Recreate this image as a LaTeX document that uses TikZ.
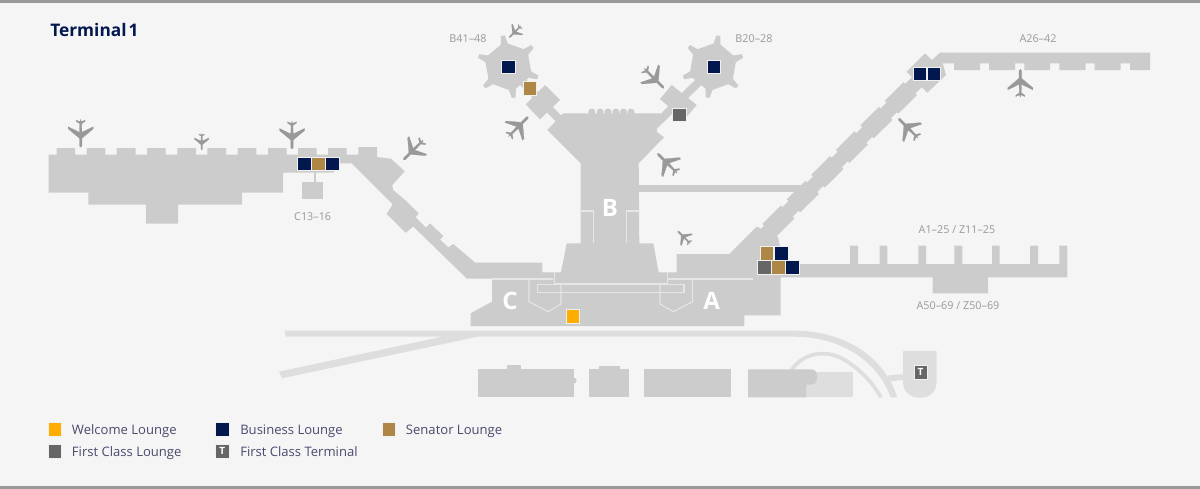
\documentclass[tikz,border=0pt]{standalone}
\usepackage{fontspec}
\setmainfont{Open Sans}
\definecolor{mapbg}{HTML}{F5F5F5}
\definecolor{mapgrey}{HTML}{CCCCCC}
\definecolor{maplight}{HTML}{DEDEDE}
\definecolor{mapline}{HTML}{E6E6E6}
\definecolor{planegrey}{HTML}{999999}
\definecolor{navy}{HTML}{03174F}
\definecolor{gold}{HTML}{AE8645}
\definecolor{fclass}{HTML}{666666}
\definecolor{welcome}{HTML}{FFAD00}
\definecolor{legendtext}{HTML}{4A4A6E}
\tikzset{
  lounge/.style={minimum size=10pt,inner sep=0pt,outer sep=0pt,draw=white!70!mapgrey,line width=.3pt},
  gatelabel/.style={font=\fontsize{8.1}{10}\selectfont,text=planegrey,inner sep=0pt},
  legendlabel/.style={font=\fontsize{9.8}{12}\selectfont,text=legendtext,anchor=west,inner sep=0pt,text height=7.5pt,text depth=2.5pt},
  arealabel/.style={font=\fontsize{18}{20}\selectfont\bfseries,text=white,inner sep=0pt},
  inner line/.style={draw=mapline,line width=.8pt},
  neck/.style={draw=mapgrey},
  road/.style={draw=maplight},
  plane/.pic={
    \fill[planegrey,draw=planegrey,line width=.2pt,line join=round]
      (0,-14)--(1.2,-12.5)--(1.2,-5)--(12.5,4.5)--(12.5,6.5)--(1.2,1)--(.9,9.5)--(4.5,12)--(4.5,13.2)--(.6,11.5)
      --(0,14)--(-.6,11.5)--(-4.5,13.2)--(-4.5,12)--(-.9,9.5)--(-1.2,1)--(-12.5,6.5)--(-12.5,4.5)--(-1.2,-5)--(-1.2,-12.5)--cycle;
  }
}
\begin{document}
\begin{tikzpicture}[x=.75pt,y=-.75pt]
  \useasboundingbox (0,0) rectangle (1200,489);
  \fill[mapbg] (0,0) rectangle (1200,489);
  \fill[planegrey] (0,0) rectangle (1200,3);
  \fill[planegrey] (0,486) rectangle (1200,489);
  % roads
  \fill[maplight] (284.7,330.7)--(794,330.7)
    .. controls (846,330.7) and (885,358) .. (897.2,397.3)--(890.5,397.3)
    .. controls (878,362) and (842,336.7) .. (794,336.7)--(477.6,336.7)--(282,378.3)--(279,371.7)--(441.9,336.7)--(285.6,336.7)--cycle;
  \draw[road,line width=2.8pt] (791,371) .. controls (802,353) and (825,349) .. (843,359) .. controls (862,370) and (874,385) .. (881,397.3);
  \draw[road,line width=4.5pt] (888,378.5)--(903,377);
  % T building
  \fill[maplight] (903,351)--(936.5,351)--(936.5,381.7) .. controls (936.5,392) and (930,397.7) .. (920,397.7)
    .. controls (910,397.7) and (903,392) .. (903,381.7)--cycle;
  % parking and outer buildings
  \fill[maplight] (806.6,371.7) rectangle (852.6,397.3);
  \fill[mapgrey] (477.6,369.3) rectangle (573.6,397.3);
  \fill[mapgrey] (506.6,365.3) rectangle (521.3,370);
  \fill[mapgrey] (573.6,380.7) circle (3);
  \fill[mapgrey] (589.2,369.3) rectangle (629.4,397.3);
  \fill[mapgrey] (599,366) rectangle (619.5,370);
  \fill[mapgrey] (644,369.3) rectangle (730.7,397.3);
  \fill[mapgrey] (748,369.3)--(812,369.3) .. controls (819,370) and (819,384) .. (812,384.6)--(806.6,384.6)--(806.6,397.3)--(748,397.3)--cycle;
  % west pier and main terminal
  \fill[mapgrey] (48.7,154.5)--(56.7,154.5)--(56.7,148)--(75,148)--(75,154.5)--(86.7,154.5)--(86.7,148)--(105.3,148)--(105.3,154.5)
    --(116.7,154.5)--(116.7,148)--(135.7,148)--(135.7,154.5)--(147,154.5)--(147,148)--(165.7,148)--(165.7,154.5)
    --(177.3,154.5)--(177.3,148)--(196,148)--(196,154.5)--(207.3,154.5)--(207.3,148)--(226,148)--(226,154.5)
    --(237.7,154.5)--(237.7,148)--(256.3,148)--(256.3,154.5)--(268,154.5)--(268,148)--(286.7,148)--(286.7,154.5)
    --(298,154.5)--(298,148)--(316.7,148)--(316.7,154.5)--(328,154.5)--(328,148)--(346.7,148)--(346.7,154.5)
    --(358.3,154.5)--(358.3,147)--(377,147)--(377,157)--(391,158.7)--(404.7,171.3)--(392.3,185)--(393,190)
    --(405,200)--(418.7,213.3)--(415.7,217.3)--(426,227.7)--(430,223.3)--(443.3,236)--(440,239.3)--(448.3,247.5)--(453.3,244)
    --(475,262.5)--(542.3,262.5)--(542.3,272.3)--(561,272.3)--(566.7,243.3)--(580.7,243.3)
    --(580.7,163.3)--(547.3,130)--(563.3,113.3)--(660,113.3)--(656.7,131.7)--(664,137.3)--(638.7,163.3)--(639.3,243.3)
    --(653.3,243.3)--(658.7,272.3)--(676.7,272.3)--(676.7,254)--(729.3,254)--(756.7,226.7)--(778,237)--(780,246.7)--(780,258)--(790,264)--(797.3,264)
    --(797.3,277.3)--(780.7,277.3)--(780.7,315.3)--(744.3,315.3)--(744.3,326)--(470.7,326)--(470.7,313.3)--(492,301.7)
    --(492,278.5)--(466.7,278.5)--(413.3,226.5)--(405.7,232.7)--(386.7,214)--(392.7,204.3)--(351.7,163.3)--(340,163.3)--(333.3,172.7)
    --(283,172.7)--(283,192.7)--(242,192.7)--(242,204.7)--(178,204.7)--(178,223.7)--(146,223.7)--(146,204.7)--(88.3,204.7)
    --(88.3,192.7)--(48.7,192.7)--cycle;
  \foreach \bx in {591.7,600,608,616,623.5,631}
    \fill[mapgrey] (\bx,112) circle (3.5);
  % C13-16
  \fill[mapgrey] (301.7,181.7) rectangle (322.7,199.3);
  \draw[neck,line width=1.1pt] (315,171)--(315,182);
  % B corridor to A pier
  \fill[mapgrey] (638,185) rectangle (804,191.5);
  % B satellites
  \draw[neck,line width=6pt] (508,67)--(560,120);
  \draw[neck,line width=6pt] (714,67)--(655,125);
  \fill[mapgrey] (545,85)--(560,100)--(540,119.3)--(525.7,104.3)--cycle;
  \fill[mapgrey] (671.7,85)--(696.7,105)--(684,120)--(660,99)--cycle;
  \foreach \cx/\cy/\off in {508.3/66.7/-100,713/66.7/-80}{
    \begin{scope}[shift={(\cx,\cy)}]
      \fill[mapgrey] (\off:25)--(\off+60:25)--(\off+120:25)--(\off+180:25)--(\off+240:25)--(\off+300:25)--cycle;
      \foreach \k in {0,...,5}
        \fill[mapgrey] (\off+60*\k-9:23)--(\off+60*\k-3.5:31.5)--(\off+60*\k+3.5:31.5)--(\off+60*\k+9:23)--cycle;
    \end{scope}
  }
  % A26-42 pier
  \draw[neck,line width=10.5pt] (762,237.5)--(926,73);
  \foreach \k in {0,...,5}
    \fill[mapgrey] (762.3+24.5*\k,224-24.67*\k)--++(18.7,-18.5)--++(13.5,13)--++(-18.7,18.5)--cycle;
  \fill[mapgrey] (906.7,71.7)--(925,53.3)--(932,60)--(940,52.7)--(1150,52.7)--(1150,70)--(1130,70)--(1130,63.3)--(1120.7,63.3)--(1120.7,70)
    --(1094.7,70)--(1094.7,63.3)--(1085.7,63.3)--(1085.7,70)--(1059.3,70)--(1059.3,63.3)--(1050,63.3)--(1050,70)--(1024.3,70)--(1024.3,63.3)
    --(1015,63.3)--(1015,70)--(989,70)--(989,63.3)--(980,63.3)--(980,70)--(954,70)--(954,63.3)--(942.7,63.3)--(946,75)--(927.3,92.7)--cycle;
  % A1-25 pier
  \fill[mapgrey] (797,264)--(850,264)--(850,245.7)--(858,245.7)--(858,264)--(879.7,264)--(879.7,245.7)--(887.3,245.7)--(887.3,264)
    --(918.3,264)--(918.3,245.7)--(926,245.7)--(926,264)--(954.3,264)--(954.3,245.7)--(962.3,245.7)--(962.3,264)
    --(992,264)--(992,245.7)--(999.7,245.7)--(999.7,264)--(1030,264)--(1030,245.7)--(1038,245.7)--(1038,264)
    --(1059.3,264)--(1059.3,245.7)--(1067.3,245.7)--(1067.3,277.3)--(988,277.3)--(988,293.3)--(932.7,293.3)--(932.7,277.3)--(797,277.3)--cycle;
  % inner walls
  \draw[inner line] (580.7,211)--(593.3,211)--(593.3,243);
  \draw[inner line] (639.3,211)--(626.7,211)--(626.7,243);
  \draw[inner line] (492.3,279)--(553.3,279);
  \draw[inner line] (554.3,272.3)--(554.3,283.3)--(667.3,283.3)--(667.3,272.3);
  \draw[inner line] (668.3,279)--(752.7,279);
  \draw[inner line] (537.3,284.7) rectangle (684,292.3);
  \draw[inner line] (529,280)--(529,301.7)--(548.3,311.7)--(561,304)--(561,284.7);
  \draw[inner line] (660,284.7)--(660,304)--(673.3,311.7)--(692.7,301.7)--(692.7,280);
  % planes
  \foreach \px/\py/\rot/\scl in {80.7/133.3/180/1,201.7/141.7/180/.58,292/135/180/1,413.3/150/135/1,515/31.7/135/.58,
    518.3/126.7/-45/1,654/78.3/-135/1,667.3/163.3/45/1,684/237.3/45/.62,908.3/128.3/45/1,1020.3/83.3/0/1}
    \pic[rotate=\rot,scale=\scl] at (\px,\py) {plane};
  % lounges
  \node[lounge,fill=navy] (busC1) at (304.3,164) {};
  \node[lounge,fill=gold] (senC) at (318.3,164) {};
  \node[lounge,fill=navy] (busC2) at (332.3,164) {};
  \node[lounge,fill=navy] (busBw) at (508.3,66.7) {};
  \node[lounge,fill=gold] (senB) at (530,88.3) {};
  \node[lounge,fill=navy] (busBe) at (714,66.7) {};
  \node[lounge,fill=fclass] (firstB) at (679.3,115) {};
  \node[lounge,fill=navy] (busAn1) at (920,73.7) {};
  \node[lounge,fill=navy] (busAn2) at (933.7,73.7) {};
  \node[lounge,fill=gold] (senA1) at (767,253.3) {};
  \node[lounge,fill=navy] (busA1) at (781.3,253.3) {};
  \node[lounge,fill=fclass] (firstA) at (764.3,267.3) {};
  \node[lounge,fill=gold] (senA2) at (778.3,267.3) {};
  \node[lounge,fill=navy] (busA2) at (792.3,267.3) {};
  \node[lounge,fill=welcome] (welc) at (573,316.3) {};
  \node[lounge,fill=fclass,text=white,font=\fontsize{7.5}{8}\selectfont\bfseries] (termT) at (920.4,372.3) {T};
  % area letters
  \node[arealabel] (areaB) at (610,208.3) {B};
  \node[arealabel] (areaC) at (510,301) {C};
  \node[arealabel] (areaA) at (711.7,301) {A};
  % gate labels
  \node[gatelabel] (gB41) at (468,38.5) {B41–48};
  \node[gatelabel] (gB20) at (754,38.5) {B20–28};
  \node[gatelabel] (gA26) at (1038,38.5) {A26–42};
  \node[gatelabel] (gC13) at (312.7,216.7) {C13–16};
  \node[gatelabel] (gA1) at (957,229.5) {A1–25 / Z11–25};
  \node[gatelabel] (gA50) at (958,305.5) {A50–69 / Z50–69};
  % title
  \node[anchor=west,inner sep=0pt,text=navy,font=\fontsize{13}{15}\selectfont\bfseries] (title) at (50,30) {Terminal\hspace{.12em}1};
  % legend
  \node[lounge,fill=welcome] (keyW) at (54.7,429.3) {};
  \node[lounge,fill=navy] (keyB) at (222.3,429.3) {};
  \node[lounge,fill=gold] (keyS) at (389,429.3) {};
  \node[lounge,fill=fclass] (keyF) at (54.7,451.3) {};
  \node[lounge,fill=fclass,text=white,font=\fontsize{7.5}{8}\selectfont\bfseries] (keyT) at (222.3,451.3) {T};
  \node[legendlabel] (txtW) at (71.7,431.5) {Welcome Lounge};
  \node[legendlabel] (txtB) at (240,431.5) {Business Lounge};
  \node[legendlabel] (txtS) at (405.7,431.5) {Senator Lounge};
  \node[legendlabel] (txtF) at (71.7,453.5) {First Class Lounge};
  \node[legendlabel] (txtT) at (240,453.5) {First Class Terminal};
\end{tikzpicture}
\end{document}
